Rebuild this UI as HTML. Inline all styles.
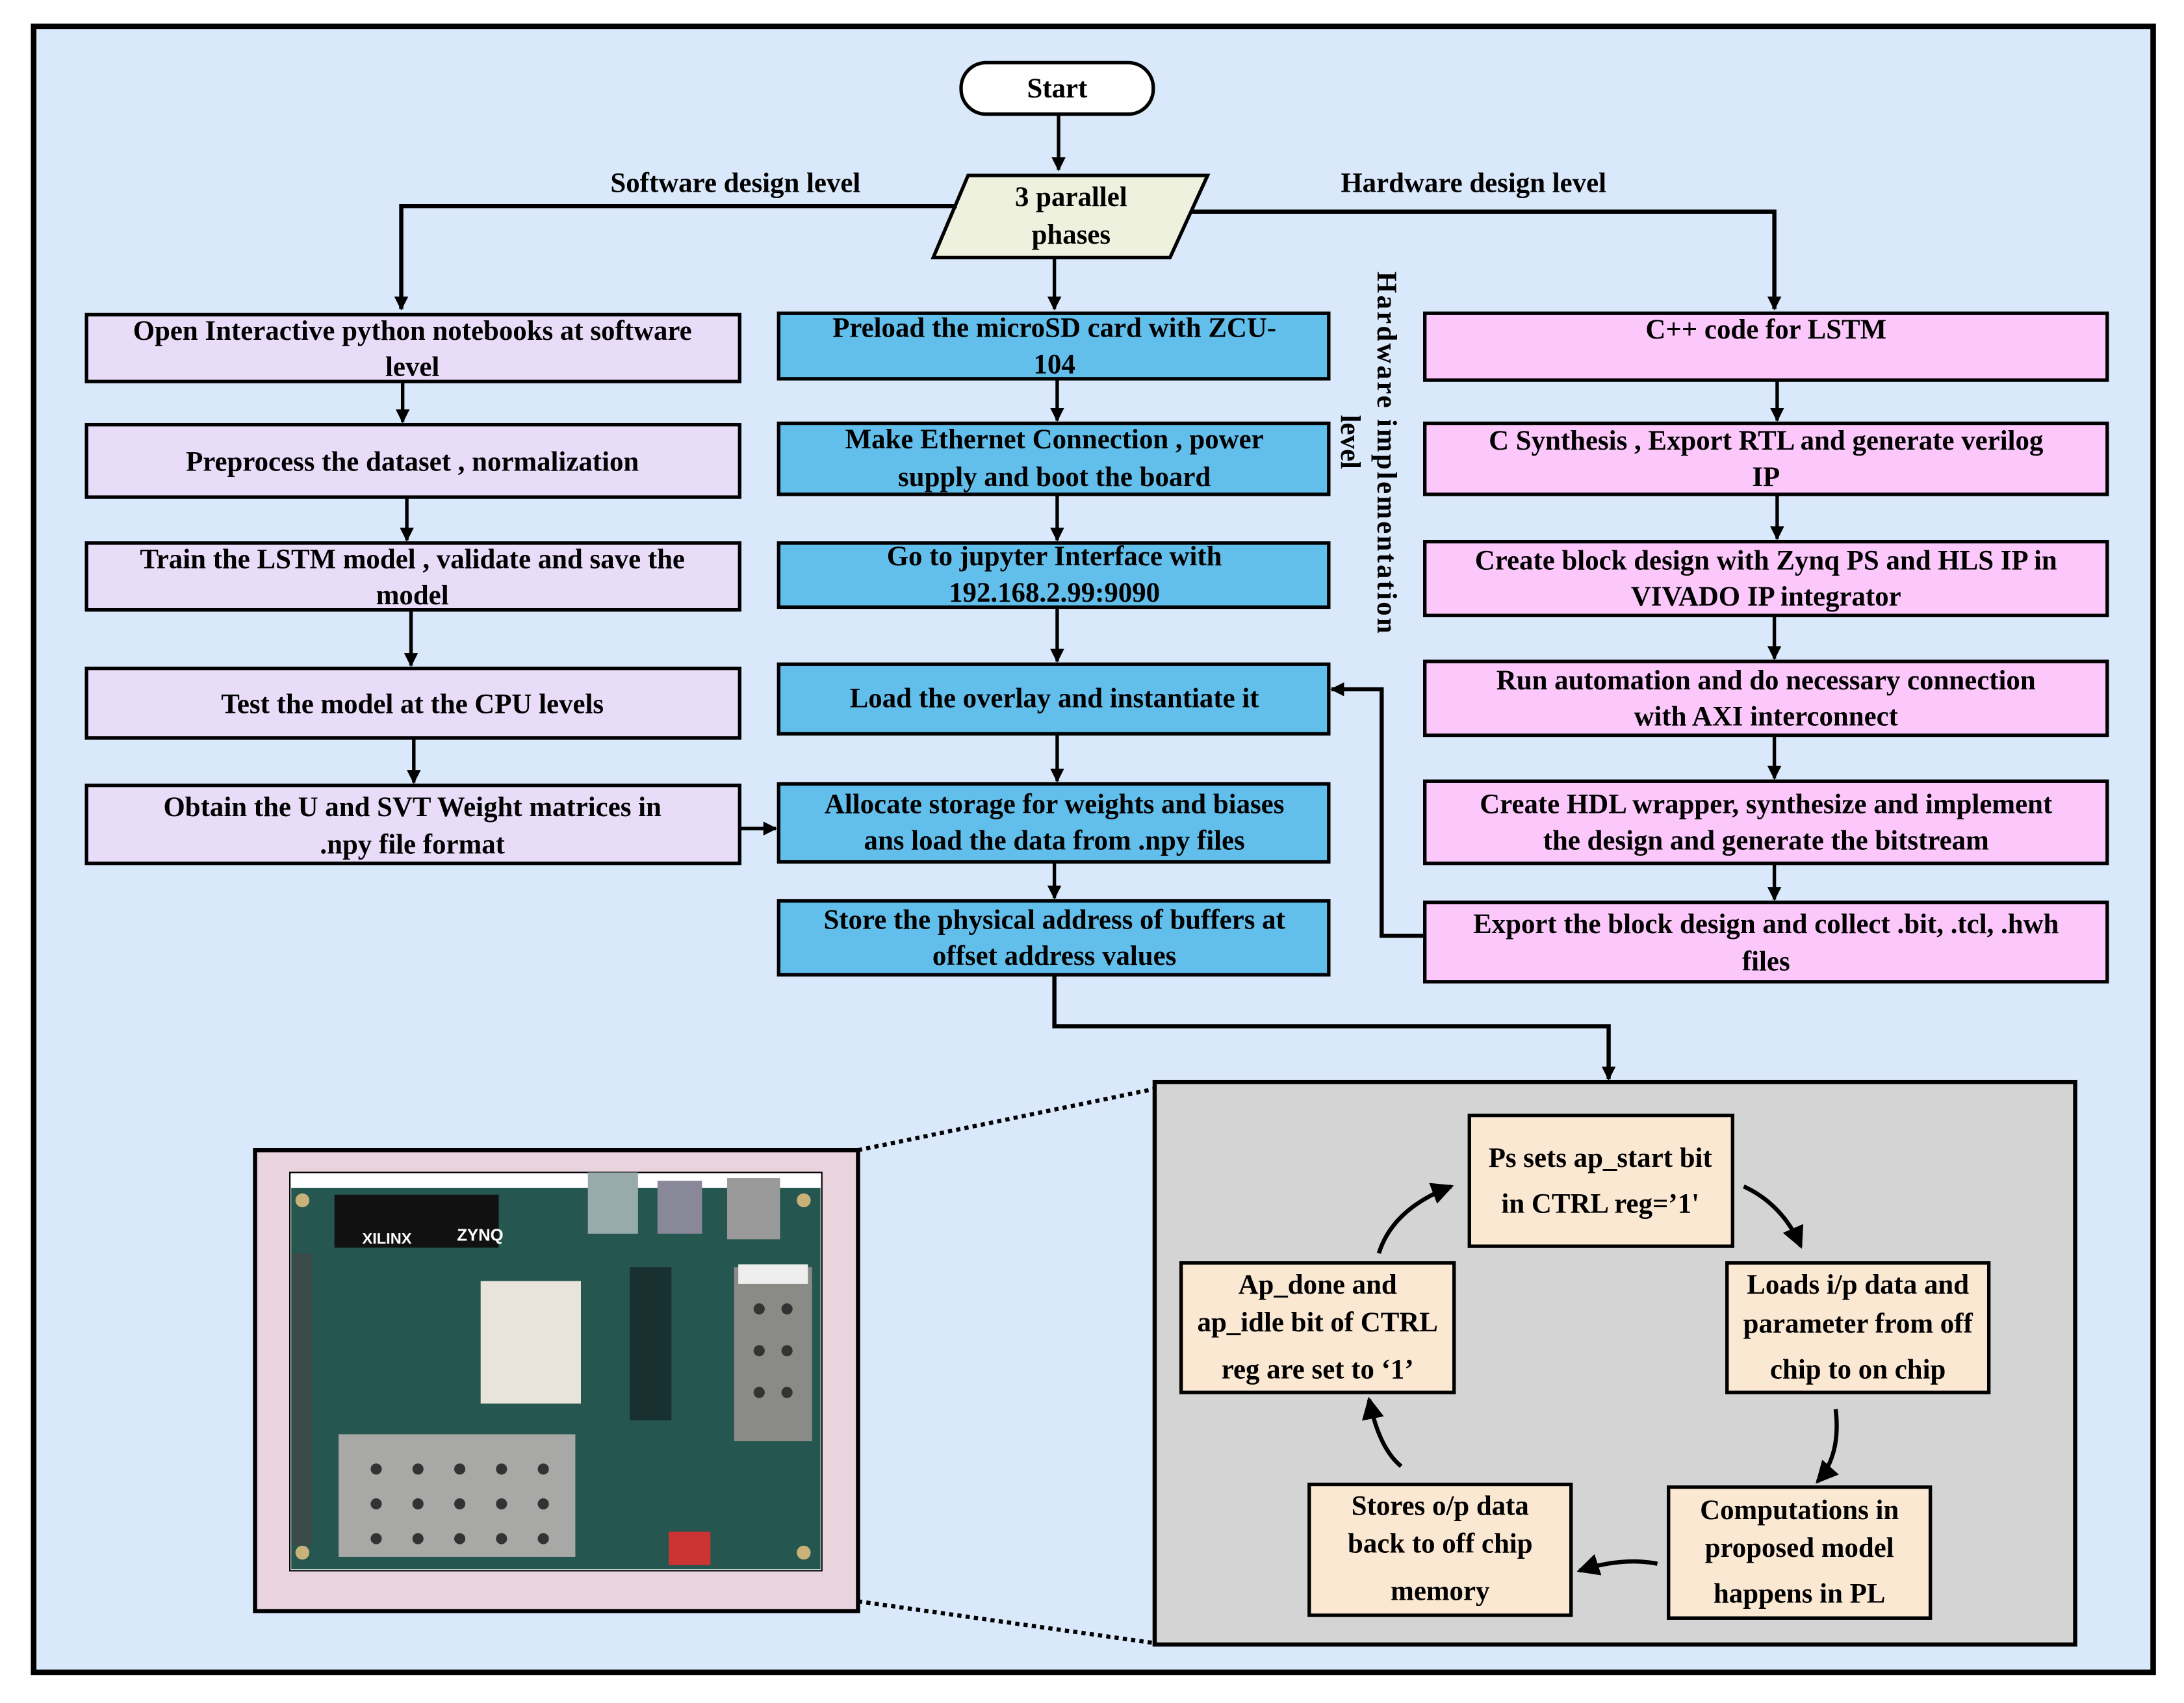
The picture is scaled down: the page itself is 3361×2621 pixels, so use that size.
<!DOCTYPE html>
<html><head><meta charset="utf-8"><style>
html,body{margin:0;padding:0;background:#fff;}
svg{display:block;}
text{font-family:"Liberation Serif","Times New Roman",serif;font-weight:bold;font-size:20px;fill:#000;}
</style></head><body>
<svg width="3361" height="2621" viewBox="0 0 1568 1223" xmlns="http://www.w3.org/2000/svg" font-family="Liberation Serif, serif" font-weight="bold">
<defs>
<marker id="ah" markerWidth="10" markerHeight="10" refX="9" refY="5" orient="auto" markerUnits="userSpaceOnUse">
<path d="M0,0 L10,5 L0,10 z" fill="#000"/></marker>
<marker id="ahb" markerWidth="16" markerHeight="16" refX="14" refY="8" orient="auto" markerUnits="userSpaceOnUse">
<path d="M0,0 L16,8 L0,16 z" fill="#000"/></marker>
</defs>
<rect x="0" y="0" width="1568" height="1223" fill="#fff"/>
<rect x="24" y="19" width="1522" height="1182" fill="#d9e8fa" stroke="#000" stroke-width="4"/>

<rect x="690" y="45" width="138" height="37" rx="18" fill="#fff" stroke="#000" stroke-width="2.5"/>
<text x="759" y="70" text-anchor="middle">Start</text>
<line x1="760" y1="82" x2="760" y2="122" stroke="#000" stroke-width="2.5" marker-end="url(#ah)"/>
<polygon points="695,126 867,126 840,185 670,185" fill="#eef1dd" stroke="#000" stroke-width="2.5"/>
<text x="769" y="148" text-anchor="middle">3 parallel</text>
<text x="769" y="175" text-anchor="middle">phases</text>
<text x="528" y="138" text-anchor="middle">Software design level</text>
<text x="1058" y="138" text-anchor="middle">Hardware design level</text>
<polyline points="687,148 288,148 288,222" fill="none" stroke="#000" stroke-width="3" marker-end="url(#ah)"/>
<polyline points="856,152 1274,152 1274,222" fill="none" stroke="#000" stroke-width="3" marker-end="url(#ah)"/>
<line x1="757" y1="185" x2="757" y2="222" stroke="#000" stroke-width="2.5" marker-end="url(#ah)"/>

<text transform="translate(989,195) rotate(90)" style="font-size:20px;letter-spacing:1.5px">Hardware implementation</text>
<text transform="translate(963,298) rotate(90)" style="font-size:20px">level</text>

<g stroke="#000" stroke-width="2.5" fill="#e8dcf8">
<rect x="62" y="226" width="469" height="48"/>
<rect x="62" y="305" width="469" height="52"/>
<rect x="62" y="390" width="469" height="48"/>
<rect x="62" y="480" width="469" height="50"/>
<rect x="62" y="564" width="469" height="56"/>
</g>
<text x="296" y="244" text-anchor="middle">Open Interactive python notebooks at software</text>
<text x="296" y="270" text-anchor="middle">level</text>
<text x="296" y="338" text-anchor="middle">Preprocess the dataset , normalization</text>
<text x="296" y="408" text-anchor="middle">Train the LSTM model , validate and save the</text>
<text x="296" y="434" text-anchor="middle">model</text>
<text x="296" y="512" text-anchor="middle">Test the model at the CPU levels</text>
<text x="296" y="586" text-anchor="middle">Obtain the U and SVT Weight matrices in</text>
<text x="296" y="613" text-anchor="middle">.npy file format</text>
<g stroke="#000" stroke-width="2.5" marker-end="url(#ah)">
<line x1="289" y1="274" x2="289" y2="303"/>
<line x1="292" y1="357" x2="292" y2="388"/>
<line x1="295" y1="438" x2="295" y2="478"/>
<line x1="297" y1="530" x2="297" y2="562"/>
<line x1="531" y1="595" x2="557" y2="595"/>
</g>

<g stroke="#000" stroke-width="2.5" fill="#62bfec">
<rect x="559" y="225" width="395" height="47"/>
<rect x="559" y="304" width="395" height="51"/>
<rect x="559" y="390" width="395" height="46"/>
<rect x="559" y="477" width="395" height="50"/>
<rect x="559" y="563" width="395" height="56"/>
<rect x="559" y="647" width="395" height="53"/>
</g>
<text x="757" y="242" text-anchor="middle">Preload the microSD card with ZCU-</text>
<text x="757" y="268" text-anchor="middle">104</text>
<text x="757" y="322" text-anchor="middle">Make Ethernet Connection , power</text>
<text x="757" y="349" text-anchor="middle">supply and boot the board</text>
<text x="757" y="406" text-anchor="middle">Go to jupyter Interface with</text>
<text x="757" y="432" text-anchor="middle">192.168.2.99:9090</text>
<text x="757" y="508" text-anchor="middle">Load the overlay and instantiate it</text>
<text x="757" y="584" text-anchor="middle">Allocate storage for weights and biases</text>
<text x="757" y="610" text-anchor="middle">ans load the data from .npy files</text>
<text x="757" y="667" text-anchor="middle">Store the physical address of buffers at</text>
<text x="757" y="693" text-anchor="middle">offset address values</text>
<g stroke="#000" stroke-width="2.5" marker-end="url(#ah)">
<line x1="759" y1="272" x2="759" y2="302"/>
<line x1="759" y1="355" x2="759" y2="388"/>
<line x1="759" y1="436" x2="759" y2="475"/>
<line x1="759" y1="527" x2="759" y2="561"/>
<line x1="757" y1="619" x2="757" y2="645"/>
</g>
<polyline points="757,700 757,737 1155,737 1155,775" fill="none" stroke="#000" stroke-width="3" marker-end="url(#ah)"/>

<g stroke="#000" stroke-width="2.5" fill="#fcc8fb">
<rect x="1023" y="225" width="490" height="48"/>
<rect x="1023" y="304" width="490" height="51"/>
<rect x="1023" y="389" width="490" height="53"/>
<rect x="1023" y="475" width="490" height="53"/>
<rect x="1023" y="561" width="490" height="59"/>
<rect x="1023" y="648" width="490" height="57"/>
</g>
<text x="1268" y="243" text-anchor="middle">C++ code for LSTM</text>
<text x="1268" y="323" text-anchor="middle">C  Synthesis , Export RTL and generate verilog</text>
<text x="1268" y="349" text-anchor="middle">IP</text>
<text x="1268" y="409" text-anchor="middle">Create block design with Zynq PS and HLS IP in</text>
<text x="1268" y="435" text-anchor="middle">VIVADO IP integrator</text>
<text x="1268" y="495" text-anchor="middle">Run automation and do necessary connection</text>
<text x="1268" y="521" text-anchor="middle">with AXI interconnect</text>
<text x="1268" y="584" text-anchor="middle">Create HDL wrapper, synthesize and implement</text>
<text x="1268" y="610" text-anchor="middle">the design and generate the bitstream</text>
<text x="1268" y="670" text-anchor="middle">Export the block design and collect .bit, .tcl, .hwh</text>
<text x="1268" y="697" text-anchor="middle">files</text>
<g stroke="#000" stroke-width="2.5" marker-end="url(#ah)">
<line x1="1276" y1="273" x2="1276" y2="302"/>
<line x1="1276" y1="355" x2="1276" y2="387"/>
<line x1="1274" y1="442" x2="1274" y2="473"/>
<line x1="1274" y1="528" x2="1274" y2="559"/>
<line x1="1274" y1="620" x2="1274" y2="646"/>
</g>
<polyline points="1023,672 992,672 992,495 956,495" fill="none" stroke="#000" stroke-width="3" marker-end="url(#ah)"/>

<rect x="829" y="777" width="661" height="404" fill="#d4d4d4" stroke="#000" stroke-width="3"/>
<rect x="183" y="826" width="433" height="331" fill="#e9d3dc" stroke="#000" stroke-width="3"/>
<line x1="616" y1="826" x2="829" y2="782" stroke="#000" stroke-width="3" stroke-dasharray="3,3"/>
<line x1="616" y1="1150" x2="829" y2="1180" stroke="#000" stroke-width="3" stroke-dasharray="3,3"/>

<rect x="208" y="842" width="382" height="286" fill="#fff" stroke="#000" stroke-width="1"/>
<rect x="209" y="853" width="380" height="274" fill="#25564f"/>
<rect x="240" y="858" width="118" height="38" fill="#111"/>
<rect x="422" y="842" width="36" height="44" fill="#9aa"/>
<rect x="472" y="848" width="32" height="38" fill="#889"/>
<rect x="522" y="846" width="38" height="44" fill="#999"/>
<rect x="345" y="920" width="72" height="88" fill="#e8e4dc"/>
<rect x="527" y="910" width="56" height="125" fill="#8a8a86"/>
<rect x="243" y="1030" width="170" height="88" fill="#a8a8a6"/>
<rect x="452" y="910" width="30" height="110" fill="#183030"/>
<rect x="480" y="1100" width="30" height="24" fill="#c33"/>
<rect x="210" y="900" width="14" height="210" fill="#3a4a48"/>
<rect x="530" y="908" width="50" height="14" fill="#eee"/>
<text x="260" y="893" style="font-size:11px;fill:#fff;font-family:'Liberation Sans',sans-serif">XILINX</text>
<text x="328" y="891" style="font-size:12px;fill:#fff;font-family:'Liberation Sans',sans-serif">ZYNQ</text>
<g fill="#333">
<circle cx="270" cy="1055" r="4"/><circle cx="300" cy="1055" r="4"/><circle cx="330" cy="1055" r="4"/><circle cx="360" cy="1055" r="4"/><circle cx="390" cy="1055" r="4"/>
<circle cx="270" cy="1080" r="4"/><circle cx="300" cy="1080" r="4"/><circle cx="330" cy="1080" r="4"/><circle cx="360" cy="1080" r="4"/><circle cx="390" cy="1080" r="4"/>
<circle cx="270" cy="1105" r="4"/><circle cx="300" cy="1105" r="4"/><circle cx="330" cy="1105" r="4"/><circle cx="360" cy="1105" r="4"/><circle cx="390" cy="1105" r="4"/>
<circle cx="545" cy="940" r="4"/><circle cx="565" cy="940" r="4"/><circle cx="545" cy="970" r="4"/><circle cx="565" cy="970" r="4"/><circle cx="545" cy="1000" r="4"/><circle cx="565" cy="1000" r="4"/>
</g>
<g fill="#c9b27a"><circle cx="217" cy="862" r="5"/><circle cx="577" cy="862" r="5"/><circle cx="217" cy="1115" r="5"/><circle cx="577" cy="1115" r="5"/></g>

<g stroke="#000" stroke-width="2.5" fill="#fbe8d2">
<rect x="1055" y="801" width="189" height="94"/>
<rect x="1240" y="907" width="188" height="93"/>
<rect x="1198" y="1068" width="188" height="94"/>
<rect x="940" y="1066" width="188" height="94"/>
<rect x="848" y="907" width="196" height="93"/>
</g>
<text x="1149" y="838" text-anchor="middle">Ps sets ap_start bit</text>
<text x="1149" y="871" text-anchor="middle">in CTRL reg=’1'</text>
<text x="1334" y="929" text-anchor="middle">Loads i/p data and</text>
<text x="1334" y="957" text-anchor="middle">parameter from off</text>
<text x="1334" y="990" text-anchor="middle">chip to on chip</text>
<text x="1292" y="1091" text-anchor="middle">Computations in</text>
<text x="1292" y="1118" text-anchor="middle">proposed model</text>
<text x="1292" y="1151" text-anchor="middle">happens in PL</text>
<text x="1034" y="1088" text-anchor="middle">Stores o/p data</text>
<text x="1034" y="1115" text-anchor="middle">back to off chip</text>
<text x="1034" y="1149" text-anchor="middle">memory</text>
<text x="946" y="929" text-anchor="middle">Ap_done and</text>
<text x="946" y="956" text-anchor="middle">ap_idle bit of CTRL</text>
<text x="946" y="990" text-anchor="middle">reg are set to ‘1’</text>
<g fill="none" stroke="#000" stroke-width="3" marker-end="url(#ahb)">
<path d="M1252,852 Q1280,865 1293,895"/>
<path d="M1318,1012 Q1322,1045 1305,1064"/>
<path d="M1190,1123 Q1165,1118 1134,1128"/>
<path d="M1006,1053 Q990,1040 983,1005"/>
<path d="M990,900 Q1000,868 1042,852"/>
</g>
</svg>
</body></html>
